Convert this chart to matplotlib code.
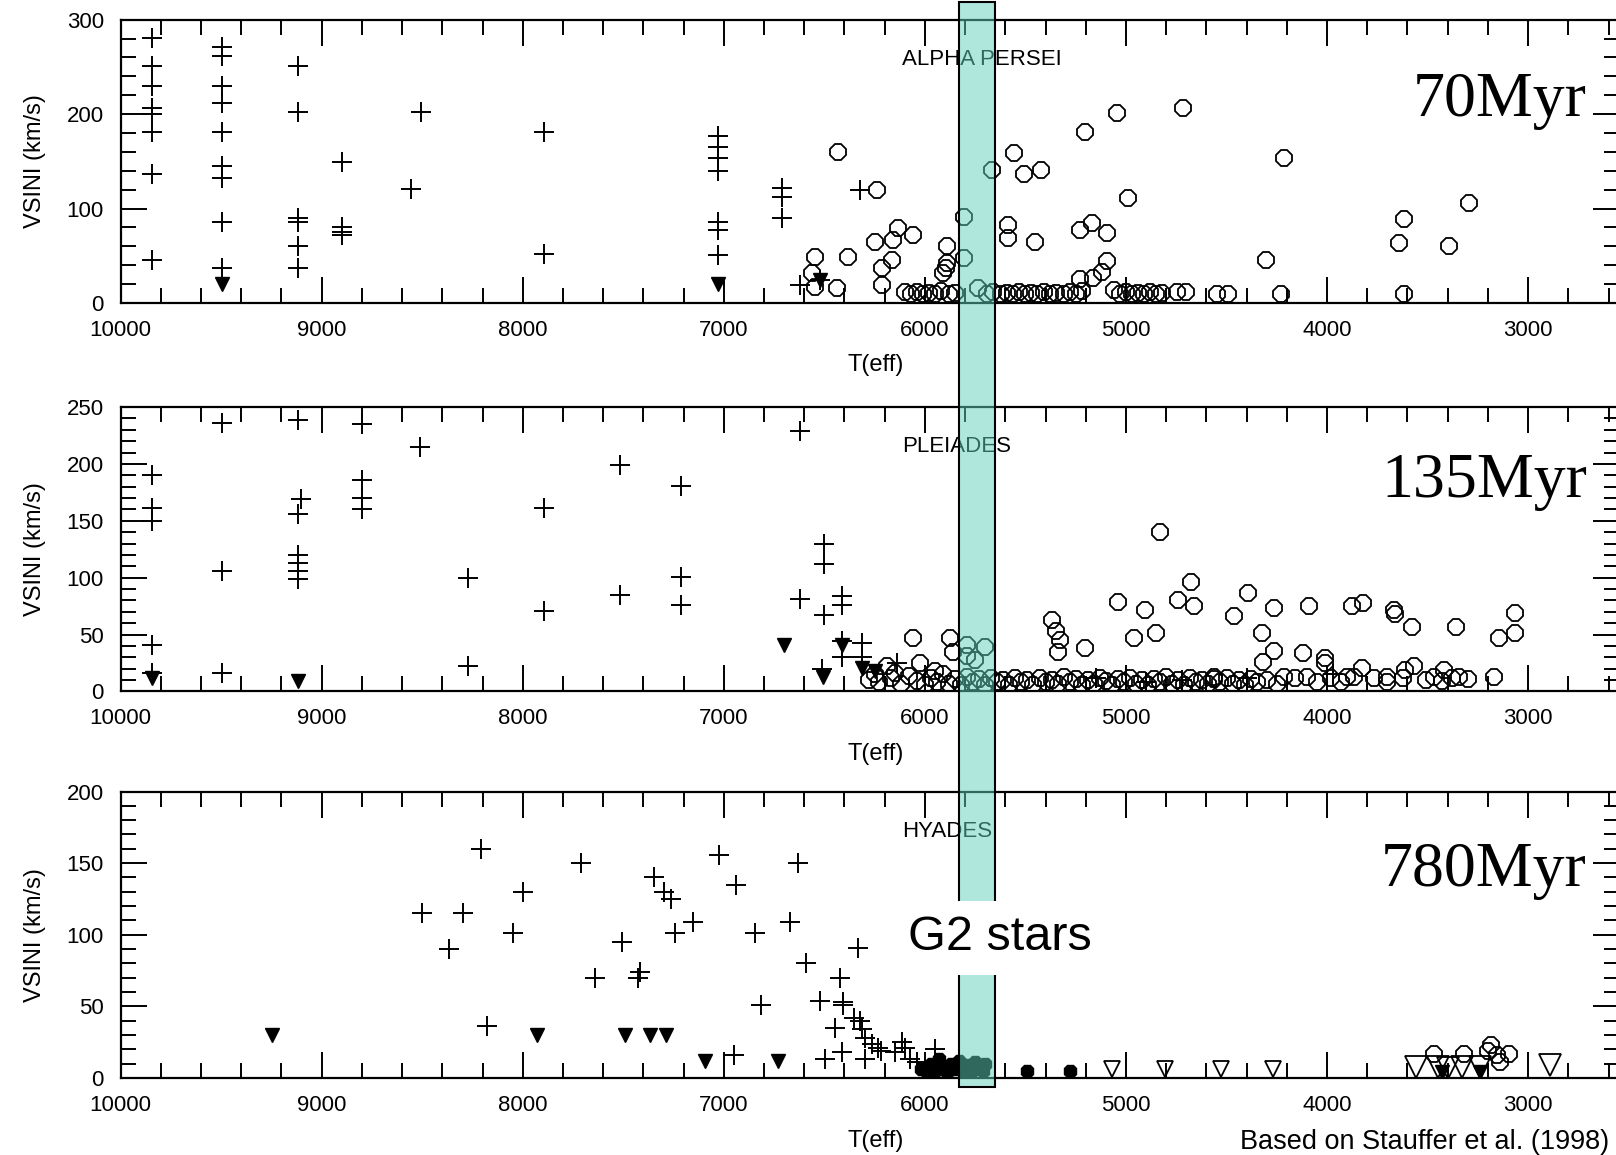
import matplotlib
matplotlib.use("Agg")
import matplotlib.pyplot as plt
from matplotlib.ticker import MultipleLocator
from matplotlib.patches import Rectangle
import matplotlib.transforms as mtransforms

plt.rcParams['font.family'] = ['Liberation Sans', 'DejaVu Sans']

# ---------------- DATA ----------------
# Panel 1: ALPHA PERSEI (70 Myr)
ap_plus_T = [9845, 9845, 9845, 9845, 9845, 9845, 9845, 9845,
             9496, 9496, 9496, 9496, 9496, 9496, 9496, 9496, 9496,
             9119, 9119, 9119, 9119, 9119, 9119,
             8900, 8900, 8900, 8900,
             8557, 8507, 7894, 7894,
             7031, 7031, 7031, 7031, 7031, 7031, 7031,
             6711, 6711, 6711,
             6322, 6620, 6520]
ap_plus_v = [281, 251, 230, 206, 200, 181, 137, 45,
             271, 262, 230, 212, 181, 145, 132, 86, 37,
             251, 202, 90, 86, 60, 37,
             149, 80, 75, 72,
             121, 202, 181, 52,
             177, 165, 153, 140, 86, 77, 51,
             122, 112, 90,
             120, 19, 24]
ap_tri_T = [9496, 7031, 6520]
ap_tri_v = [20, 20, 24]
ap_circ_T = [6431, 6238, 5667, 5559, 5508, 5421, 5205, 5046, 4718, 4988, 4215, 4303, 4231,
             3615, 3641, 3395, 3292, 3615,
             5804, 5585, 5585, 5451, 5227, 5169, 5094, 5094, 5119, 5162, 5227,
             6545, 6380, 6247, 6157, 6132, 6057, 6164, 6214, 6214, 5890, 5890, 5895, 5910,
             5804, 6562, 6545, 6437, 5734,
             6100, 6070, 6040, 6010, 5980, 5950, 5920, 5880, 5850, 5690, 5660, 5620, 5590,
             5560, 5530, 5500, 5470, 5440, 5410, 5380, 5350, 5310, 5280, 5250, 5220,
             5060, 5030, 5000, 4970, 4940, 4910, 4880, 4850, 4820, 4745, 4700, 4545, 4495]
ap_circ_v = [160, 120, 141, 159, 137, 141, 181, 201, 206, 111, 154, 45, 10,
             89, 63, 60, 106, 9,
             91, 83, 69, 65, 77, 85, 74, 44, 33, 26, 25,
             49, 49, 65, 67, 79, 72, 46, 37, 19, 60, 42, 37, 32,
             48, 32, 17, 16, 16,
             12, 10, 12, 9, 11, 10, 13, 9, 11, 10, 12, 9, 11,
             10, 12, 9, 11, 10, 12, 9, 11, 10, 12, 10, 13,
             14, 10, 12, 9, 11, 10, 12, 9, 11, 12, 12, 10, 10]

# Panel 2: PLEIADES (135 Myr)
pl_plus_T = [9845, 9845, 9845, 9845, 9845,
             9496, 9496, 9496,
             9119, 9104, 9119, 9119, 9119, 9119, 9119,
             8801, 8801, 8801, 8801,
             8513, 8270, 8270, 7894, 7894, 7518, 7518,
             7215, 7215, 7215,
             6620, 6620,
             6500, 6500, 6500, 6512,
             6410, 6410, 6413, 6413, 6313, 6313, 6140,
             5150, 4900, 4720, 4400, 3970]
pl_plus_v = [190, 161, 150, 41, 16,
             236, 106, 16,
             239, 169, 156, 120, 113, 106, 99,
             235, 186, 170, 160,
             215, 100, 22, 161, 71, 199, 85,
             181, 101, 76,
             229, 81,
             130, 112, 67, 20,
             84, 76, 44, 30, 43, 30, 25,
             12, 8, 10, 12, 15]
pl_tri_T = [9845, 9119, 6702, 6505, 6413, 6313, 6250]
pl_tri_v = [12, 9, 41, 13, 41, 21, 18]
pl_circ_T = [6057, 5874, 5791, 5700, 5791, 5750, 6247, 6188, 6150, 6023, 5950, 5860,
             5368, 5350, 5330, 5340, 5202, 5038, 4904, 4962, 4852, 4831, 4678, 4739, 4664,
             4391, 4465, 4266, 4092, 3875, 3819, 3669, 3660, 3577, 3361, 3063, 3063, 3147, 3172,
             4323, 4266, 4318, 4118, 4008, 4008, 3826, 3610, 3570, 3470, 3420, 3345, 3380,
             3701, 3766, 3866, 4099, 4216, 4564,
             6280, 6230, 6170, 6120, 6080, 6040, 6000, 5970, 5940, 5910, 5880, 5850, 5820,
             5790, 5760, 5730, 5700, 5670, 5640, 5610, 5580, 5550, 5520, 5490, 5460, 5430,
             5400, 5370, 5340, 5310, 5280, 5250, 5220, 5190, 5160, 5130, 5100, 5070, 5040,
             5010, 4980, 4950, 4920, 4890, 4860, 4830, 4800, 4770, 4740, 4710, 4680, 4650,
             4620, 4590, 4560, 4530, 4500, 4470, 4440, 4410, 4380, 4350, 4300, 4250, 4160,
             4050, 3980, 3930, 3900, 3700, 3620, 3510, 3430, 3300]
pl_circ_v = [47, 47, 41, 39, 31, 28, 15, 22, 16, 25, 18, 35,
             63, 53, 45, 35, 38, 79, 72, 47, 51, 140, 96, 80, 75,
             87, 66, 73, 75, 75, 78, 72, 68, 57, 57, 69, 51, 47, 13,
             51, 36, 26, 34, 25, 29, 21, 19, 22, 13, 19, 13, 12,
             13, 12, 13, 13, 13, 13,
             10, 8, 12, 7, 14, 9, 6, 12, 8, 15, 7, 11, 6,
             13, 8, 11, 6, 12, 8, 10, 6, 12, 8, 10, 6, 12,
             8, 10, 7, 13, 8, 11, 6, 10, 7, 12, 9, 6, 11,
             8, 12, 7, 10, 6, 11, 8, 13, 7, 10, 6, 12, 8,
             10, 7, 11, 8, 12, 7, 10, 6, 11, 8, 10, 7, 12,
             8, 12, 8, 13, 8, 12, 10, 9, 11]

# Panel 3: HYADES (780 Myr)
hy_plus_T = [8502, 8369, 8296, 8208, 8177, 8049, 8000, 7712, 7639, 7507, 7418, 7425,
             7345, 7296, 7263, 7241, 7153, 7022, 6938, 6631, 6671, 6846, 6948, 6591,
             6332, 6421, 6815, 6520, 6406, 6406, 6355, 6322, 6446, 6313, 6296, 6263,
             6231, 6220, 6412, 6496, 6296, 6114, 6097, 6148, 6073, 6040, 5948]
hy_plus_v = [115, 90, 115, 160, 36, 101, 130, 150, 70, 95, 74, 70,
             140, 130, 125, 101, 109, 156, 135, 150, 109, 101, 16, 80,
             91, 70, 51, 54, 53, 51, 42, 40, 35, 34, 28, 24,
             21, 19, 18, 13, 13, 25, 21, 18, 13, 11, 20]
hy_tri_T = [9248, 7927, 7491, 7367, 7285, 7092, 6732, 3430, 3240]
hy_tri_v = [30, 30, 30, 30, 30, 12, 12, 4, 4]
hy_dot_T = [6020, 5990, 5970, 5950, 5930, 5910, 5890, 5870, 5850, 5830, 5810, 5790,
            5770, 5750, 5730, 5710, 5700, 5492, 5277]
hy_dot_v = [6, 4, 10, 5, 13, 7, 4, 10, 6, 12, 5, 9, 4, 11, 7, 5, 10, 5, 5]
hy_otri_T = [5071, 4806, 4529, 4268]
hy_otri_v = [6, 6, 6, 6]
hy_btri_T = [3560, 3450, 3400, 3330, 3240, 2890]
hy_btri_v = [8, 8, 7, 8, 8, 9]
hy_circ_T = [3470, 3321, 3187, 3154, 3097, 3138, 3200]
hy_circ_v = [17, 17, 23, 16, 17, 11, 19]

cluster_names = ["ALPHA PERSEI", "PLEIADES", "HYADES"]
ages = ["70Myr", "135Myr", "780Myr"]
ymax = [300, 250, 200]
ymajor = [100, 50, 50]
yminor = [20, 10, 10]
g2_band = (5830, 5650)

# ---------------- FIGURE ----------------
W, H = 1616, 1155
fig = plt.figure(figsize=(W / 100, H / 100), dpi=100)
left = 0.0746
width = 1.002 - left
boxes = [(0.7377, 0.2453), (0.4013, 0.2463), (0.0667, 0.2480)]
axes = [fig.add_axes([left, b, width, h]) for b, h in boxes]

plus_kw = dict(marker='+', ms=15, mew=1.4, color='black', ls='none')
circ_kw = dict(marker='8', ms=13, mew=1.3, mfc='none', mec='black', ls='none')
tri_kw = dict(marker='v', ms=10, color='black', ls='none')

for i, ax in enumerate(axes):
    ax.set_xlim(10000, 2547)
    ax.set_ylim(0, ymax[i])
    ax.xaxis.set_major_locator(MultipleLocator(1000))
    ax.xaxis.set_minor_locator(MultipleLocator(200))
    ax.yaxis.set_major_locator(MultipleLocator(ymajor[i]))
    ax.yaxis.set_minor_locator(MultipleLocator(yminor[i]))
    ax.tick_params(which='both', direction='in', top=True, right=True, width=1.4,
                   labelsize=16)
    ax.tick_params(which='major', length=19)
    ax.tick_params(which='minor', length=11)
    ax.tick_params(axis='x', which='major', pad=12)
    ax.tick_params(axis='y', which='major', pad=12)
    for sp in ax.spines.values():
        sp.set_linewidth(1.6)
    ax.set_ylabel("VSINI (km/s)", fontsize=17)
    ax.yaxis.set_label_coords(-0.05, 0.5)
    ax.set_xlabel("T(eff)", fontsize=17)
    ax.xaxis.set_label_coords(0.504, -0.18)
    ax.text(6112, ymax[i] * 0.86, cluster_names[i], fontsize=16, ha='left',
            va='center')

ax1, ax2, ax3 = axes
ax1.plot(ap_plus_T, ap_plus_v, **plus_kw)
ax1.plot(ap_circ_T, ap_circ_v, **circ_kw)
ax1.plot(ap_tri_T, ap_tri_v, **tri_kw)

ax2.plot(pl_plus_T, pl_plus_v, **plus_kw)
ax2.plot(pl_circ_T, pl_circ_v, **circ_kw)
ax2.plot(pl_tri_T, pl_tri_v, **tri_kw)

ax3.plot(hy_plus_T, hy_plus_v, **plus_kw)
ax3.plot(hy_tri_T, hy_tri_v, **tri_kw)
ax3.plot(hy_dot_T, hy_dot_v, marker='8', ms=10, color='black', ls='none')
ax3.plot(hy_otri_T, hy_otri_v, marker='v', ms=11, mfc='none', mec='black', mew=1.3, ls='none')
ax3.plot(hy_btri_T, hy_btri_v, marker='v', ms=16, mfc='none', mec='black', mew=1.3, ls='none')
ax3.plot(hy_circ_T, hy_circ_v, **circ_kw)

# Age labels
age_y = [0.90, 0.570, 0.233]
for a, y in zip(ages, age_y):
    fig.text(0.982, y, a, fontsize=46, family='Liberation Serif', ha='right',
             va='baseline')

# G2 band spanning all panels
trans = mtransforms.blended_transform_factory(ax1.transData, fig.transFigure)
band = Rectangle((g2_band[0], 0.0589), g2_band[1] - g2_band[0], 0.998 - 0.0589,
                 transform=trans, facecolor=(0.39, 0.82, 0.74), alpha=0.5,
                 edgecolor='none', zorder=5)
fig.add_artist(band)
edge = Rectangle((g2_band[0], 0.0589), g2_band[1] - g2_band[0], 0.998 - 0.0589,
                 transform=trans, facecolor='none', edgecolor='black', lw=1.5,
                 zorder=6)
fig.add_artist(edge)

fig.text(0.619, 0.188, "G2 stars", fontsize=35, ha='center', va='center', zorder=10,
         bbox=dict(boxstyle='square,pad=0.3', facecolor='white', edgecolor='none'))

fig.text(0.996, 0.011, "Based on Stauffer et al. (1998)", fontsize=19.5, ha='right',
         va='center')

fig.savefig("out.png", dpi=100)
